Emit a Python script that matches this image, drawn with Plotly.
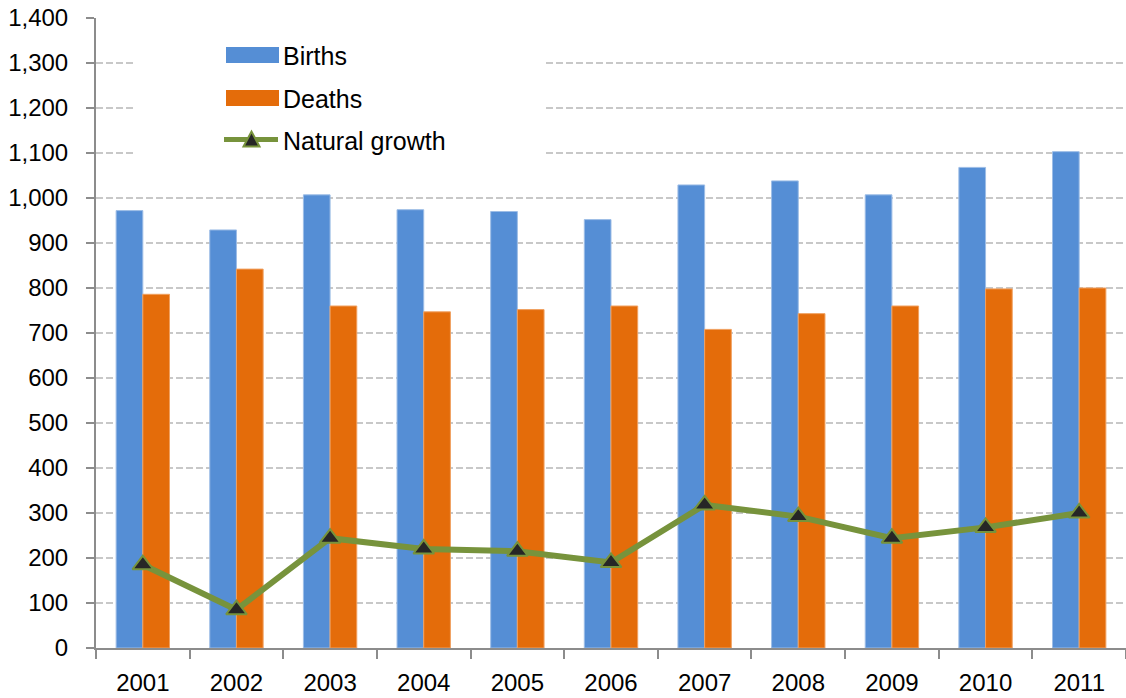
import plotly.graph_objects as go

# Annual births, deaths and natural growth
years = ["2001", "2002", "2003", "2004", "2005", "2006",
         "2007", "2008", "2009", "2010", "2011"]
births = [972, 929, 1007, 974, 970, 952, 1029, 1038, 1007, 1068, 1103]
deaths = [786, 842, 760, 747, 752, 760, 708, 743, 760, 798, 800]
natural_growth = [185, 85, 244, 220, 215, 190, 318, 292, 244, 268, 300]

y_ticks = list(range(0, 1401, 100))
y_tick_text = [f"{v:,}" for v in y_ticks]

BLUE = "#558ed5"
ORANGE = "#e46c0a"
GREEN = "#77933c"
DARK = "#262626"
FONT = "Liberation Sans, Arial, sans-serif"

W, H = 1126, 698
M_L, M_R, M_T, M_B = 96, 0, 18, 50
PW, PH = W - M_L - M_R, H - M_T - M_B


def px_x(x):
    return (x - M_L) / PW


def px_y(y):
    return (H - M_B - y) / PH


fig = go.Figure()
fig.add_trace(go.Bar(
    x=years, y=births, name="Births",
    marker=dict(color=BLUE, line=dict(color="#9dbde6", width=1)),
    showlegend=False,
))
fig.add_trace(go.Bar(
    x=years, y=deaths, name="Deaths",
    marker=dict(color=ORANGE, line=dict(color="#f0a060", width=1)),
    showlegend=False,
))
fig.add_trace(go.Scatter(
    x=years, y=natural_growth, name="Natural growth",
    mode="lines+markers",
    line=dict(color=GREEN, width=6),
    marker=dict(symbol="triangle-up", size=18, color=DARK,
                line=dict(color=GREEN, width=2)),
    showlegend=False,
))

# Legend panel drawn as layout decoration
shapes = [
    dict(type="rect", xref="paper", yref="paper",
         x0=px_x(133), x1=px_x(545), y0=px_y(175), y1=px_y(25),
         fillcolor="white", line=dict(width=0), layer="above"),
    dict(type="rect", xref="paper", yref="paper",
         x0=px_x(226), x1=px_x(279), y0=px_y(63), y1=px_y(47),
         fillcolor=BLUE, line=dict(width=0), layer="above"),
    dict(type="rect", xref="paper", yref="paper",
         x0=px_x(226), x1=px_x(279), y0=px_y(106), y1=px_y(90),
         fillcolor=ORANGE, line=dict(width=0), layer="above"),
    dict(type="line", xref="paper", yref="paper",
         x0=px_x(224), x1=px_x(278), y0=px_y(139.5), y1=px_y(139.5),
         line=dict(color=GREEN, width=5), layer="above"),
]
tx, ty = 251.5, 139.5
tri = (f"M {px_x(tx - 8)} {px_y(ty + 7)} L {px_x(tx + 8)} {px_y(ty + 7)} "
       f"L {px_x(tx)} {px_y(ty - 8)} Z")
shapes.append(dict(type="path", xref="paper", yref="paper", path=tri,
                   fillcolor=DARK, line=dict(color=GREEN, width=2),
                   layer="above"))

annotations = []
for label, yc in [("Births", 56), ("Deaths", 99), ("Natural growth", 141)]:
    annotations.append(dict(
        text=label, xref="paper", yref="paper",
        x=px_x(281), y=px_y(yc), xanchor="left", yanchor="middle",
        showarrow=False, font=dict(family=FONT, size=25, color="black"),
    ))

fig.update_layout(
    width=W, height=H,
    margin=dict(l=M_L, r=M_R, t=M_T, b=M_B),
    paper_bgcolor="white", plot_bgcolor="white",
    barmode="group", bargap=0.43, bargroupgap=0,
    font=dict(family=FONT, size=24, color="black"),
    shapes=shapes, annotations=annotations,
    showlegend=False,
)
fig.update_xaxes(
    type="category", range=[-0.5, len(years) - 0.5],
    showline=True, linecolor="#8c8c8c", linewidth=2,
    ticks="outside", tickson="boundaries", ticklen=9, tickwidth=2,
    tickcolor="#8c8c8c", showgrid=False,
    tickfont=dict(family=FONT, size=24, color="black"),
    ticklabelstandoff=12,
)
fig.update_yaxes(
    range=[0, 1400], tickvals=y_ticks, ticktext=y_tick_text,
    showline=True, linecolor="#8c8c8c", linewidth=2,
    ticks="outside", ticklen=8, tickwidth=2, tickcolor="#8c8c8c",
    showgrid=True, gridcolor="#c8c8c8", gridwidth=2, griddash="7px,3px",
    zeroline=False,
    tickfont=dict(family=FONT, size=24, color="black"),
    ticklabelstandoff=13,
)

fig.write_html("out.html")
